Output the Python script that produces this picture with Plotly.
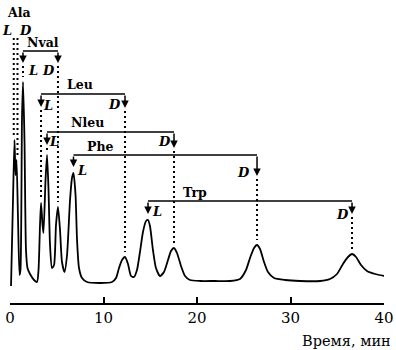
import plotly.graph_objects as go
import numpy as np

# ---- data (time in min, detector signal in arbitrary units) ----
time_min = [0.11, 0.32, 0.48, 0.59, 0.70, 0.86, 1.02, 1.12, 1.28, 1.39, 1.55, 1.71, 1.87,
            2.14, 2.57, 2.89, 3.05, 3.21, 3.32, 3.48, 3.58, 3.80, 3.96, 4.12, 4.28, 4.49,
            4.71, 4.92, 5.13, 5.35, 5.56, 5.83, 6.10, 6.42, 6.63, 6.79, 7.01, 7.17, 7.38,
            7.70, 8.24, 9.63, 10.91, 11.34, 11.66, 11.98, 12.30, 12.62, 12.94, 13.26, 13.58,
            13.90, 14.22, 14.55, 14.76, 14.97, 15.29, 15.61, 16.04, 16.47, 16.90, 17.22,
            17.54, 17.86, 18.29, 18.72, 19.25, 20.32, 21.93, 23.53, 24.60, 25.24, 25.67,
            26.10, 26.42, 26.74, 27.17, 27.59, 28.24, 29.41, 31.02, 33.16, 34.22, 34.97,
            35.61, 36.15, 36.58, 37.01, 37.54, 38.18, 39.04, 40.10]
signal = [-4, 82, 142, 107, 122, 62, 7, 12, 162, 200, 142, 32, 14,
          8, 2, 0, 12, 57, 79, 57, 49, 102, 127, 92, 37, 14,
          17, 57, 75, 52, 20, 10, 27, 82, 104, 109, 87, 42, 14,
          4, 0, -1, 0, 4, 14, 22, 25, 18, 6, 5, 12,
          30, 50, 61, 62, 56, 32, 14, 6, 10, 22, 31,
          34, 29, 16, 6, 2, 1, 1, 1, 3, 12, 24,
          34, 37, 33, 20, 10, 4, 2, 1, 1, 3, 8,
          18, 25, 28, 25, 17, 11, 8, 6]

acids = ["Ala", "Nval", "Leu", "Nleu", "Phe", "Trp"]
t_L = [0.48, 1.39, 3.32, 3.96, 6.79, 14.76]
t_D = [0.70, 5.13, 12.30, 17.54, 26.42, 36.58]

tick_vals = [0, 10, 20, 30, 40]
x_title = "Время, мин"

# ---- layout helpers (positions/styles) ----
bracket_y = [None, 231, 188, 150, 127, 81]      # level of the horizontal connector
tip_L = [None, 219, 175, 137, 115, 68]          # arrow tips
tip_D = [None, 219, 174, 134, 106, 68]
name_pos = [(0.96, 270), (3.53, 240), (7.49, 198), (8.24, 160), (9.63, 136), (19.79, 90)]
L_off = [(0.0, 252), (10, -19), (7, -11), (7, -9), (9, -15), (9, -10)]
D_off = [(1.71, 252), (-9, -19), (-11, -10), (-10, -9), (-14, -17), (-10, -13)]

SERIF = "DejaVu Serif"
fig = go.Figure()
fig.add_trace(go.Scatter(x=time_min, y=signal, mode="lines",
                         line=dict(color="black", width=1.8, shape="spline", smoothing=0.6),
                         hoverinfo="skip", showlegend=False))

shapes = []
annotations = []
dot = dict(color="black", width=2, dash="2px,3px")
lab_font = dict(family=SERIF, size=13, color="black")
name_font = dict(family=SERIF, size=12.5, color="black")
for i, name in enumerate(acids):
    hL = float(np.interp(t_L[i], time_min, signal))
    hD = float(np.interp(t_D[i], time_min, signal))
    if bracket_y[i] is None:
        top = 244
        shapes.append(dict(type="line", x0=t_L[i] - 0.08, x1=t_L[i] - 0.08, y0=top, y1=hL + 4, line=dot))
        shapes.append(dict(type="line", x0=t_D[i] + 0.1, x1=t_D[i] + 0.1, y0=top, y1=hD + 4, line=dot))
        annotations.append(dict(x=name_pos[i][0], y=name_pos[i][1], text="<b>" + name + "</b>",
                                showarrow=False, font=name_font))
        annotations.append(dict(x=L_off[i][0], y=L_off[i][1], xshift=-3, text="<b><i>L</i></b>",
                                showarrow=False, font=lab_font))
        annotations.append(dict(x=D_off[i][0], y=D_off[i][1], text="<b><i>D</i></b>", showarrow=False,
                                font=lab_font))
        continue
    yb = bracket_y[i]
    shapes.append(dict(type="line", x0=t_L[i], x1=t_D[i], y0=yb, y1=yb,
                       line=dict(color="black", width=1.5)))
    for t, tip, h in ((t_L[i], tip_L[i], hL), (t_D[i], tip_D[i], hD)):
        annotations.append(dict(x=t, y=tip, ax=t, ay=yb, axref="x", ayref="y", xref="x", yref="y",
                                text="", showarrow=True, arrowhead=2, arrowsize=1.0,
                                arrowwidth=1.5, arrowcolor="black", standoff=0, startstandoff=0))
        if h + 5 < tip - 2:
            shapes.append(dict(type="line", x0=t, x1=t, y0=tip - 3, y1=h + 5, line=dot))
    annotations.append(dict(x=name_pos[i][0], y=name_pos[i][1], text="<b>" + name + "</b>",
                            showarrow=False, font=name_font))
    annotations.append(dict(x=t_L[i], y=yb, xshift=L_off[i][0], yshift=L_off[i][1],
                            text="<b><i>L</i></b>", showarrow=False, font=lab_font))
    annotations.append(dict(x=t_D[i], y=yb, xshift=D_off[i][0], yshift=D_off[i][1],
                            text="<b><i>D</i></b>", showarrow=False, font=lab_font))

annotations.append(dict(x=1, y=0, xref="paper", yref="paper", xanchor="right", yanchor="top",
                        xshift=9, yshift=-28, text=x_title, showarrow=False,
                        font=dict(family=SERIF, size=14.5, color="black")))

fig.update_layout(
    width=396, height=350,
    margin=dict(l=10, r=12, t=0, b=47, pad=0),
    paper_bgcolor="white", plot_bgcolor="white",
    shapes=shapes, annotations=annotations,
    font=dict(family=SERIF, color="black"),
    xaxis=dict(range=[0, 40], tickvals=tick_vals, ticks="inside", ticklen=6, tickwidth=1.5,
               tickcolor="black", showline=True, linewidth=1.5, linecolor="black",
               showgrid=False, zeroline=False,
               tickfont=dict(family=SERIF, size=15, color="black")),
    yaxis=dict(range=[-21, 282], visible=False, showgrid=False, zeroline=False),
)
fig.write_html("out.html")
